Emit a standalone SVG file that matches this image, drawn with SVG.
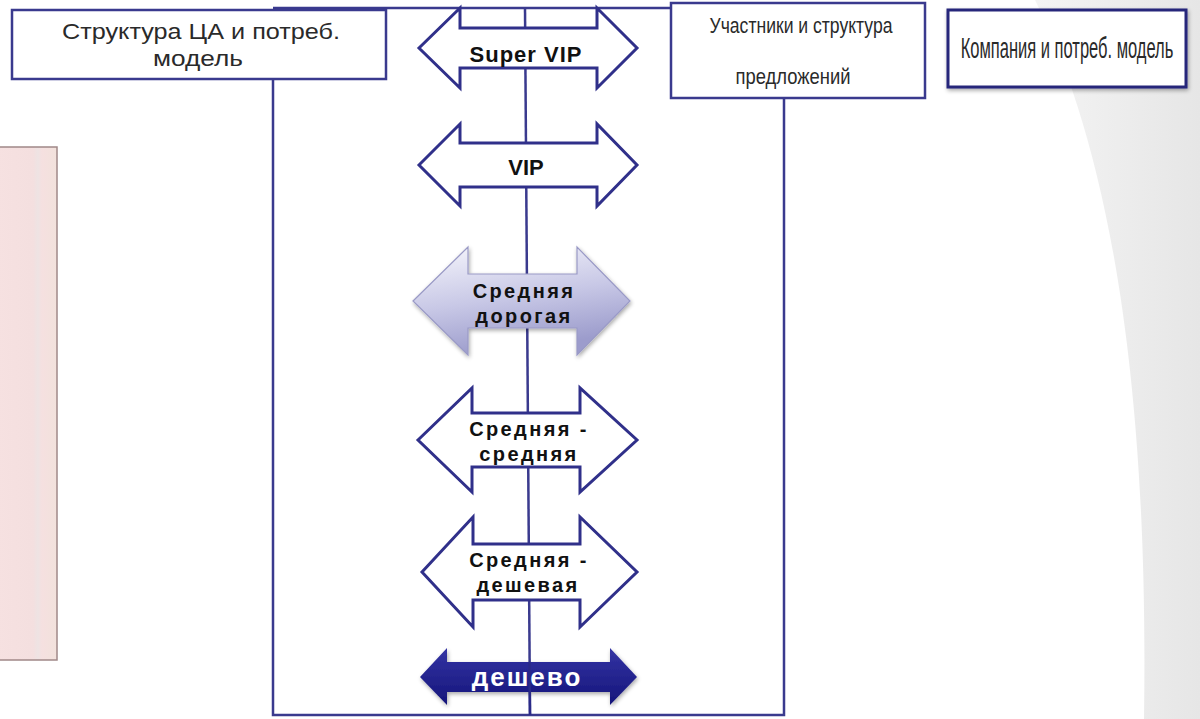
<svg xmlns="http://www.w3.org/2000/svg" width="1200" height="719" viewBox="0 0 1200 719">
  <defs>
    <linearGradient id="bgCurve" x1="0" y1="0" x2="1" y2="0">
      <stop offset="0" stop-color="#f4f4f4"/>
      <stop offset="1" stop-color="#e6e6e6"/>
    </linearGradient>
    <linearGradient id="midFill" x1="0" y1="0" x2="0.3" y2="1">
      <stop offset="0" stop-color="#f6f6fc"/>
      <stop offset="0.55" stop-color="#c8c8e6"/>
      <stop offset="1" stop-color="#9c9ccc"/>
    </linearGradient>
    <linearGradient id="cheapFill" x1="0" y1="0" x2="0" y2="1">
      <stop offset="0" stop-color="#3434a4"/>
      <stop offset="1" stop-color="#15157a"/>
    </linearGradient>
    <linearGradient id="pinkFill" x1="0" y1="0" x2="1" y2="0">
      <stop offset="0" stop-color="#f6e1e1"/>
      <stop offset="0.6" stop-color="#f4dfdf"/>
      <stop offset="0.68" stop-color="#eee3e3"/>
      <stop offset="0.75" stop-color="#f5e0e0"/>
      <stop offset="1" stop-color="#f2e2dc"/>
    </linearGradient>
    <filter id="soft" x="-10%" y="-10%" width="120%" height="130%">
      <feGaussianBlur in="SourceAlpha" stdDeviation="2"/>
      <feOffset dx="1" dy="2"/>
      <feComponentTransfer><feFuncA type="linear" slope="0.35"/></feComponentTransfer>
      <feMerge><feMergeNode/><feMergeNode in="SourceGraphic"/></feMerge>
    </filter>
  </defs>
  <style>
    .frame { fill: none; stroke: #3a3a8e; stroke-width: 2.5; }
    .box { fill: #ffffff; stroke: #3a3a8e; stroke-width: 2.5; }
    .arrow { fill: #ffffff; stroke: #30308a; stroke-width: 3; stroke-linejoin: miter; }
    .lbl { font-family: "Liberation Sans", Arial, sans-serif; font-weight: bold; fill: #111111; text-anchor: middle; }
    .hdr { font-family: "Liberation Sans", Arial, sans-serif; fill: #2a2a2a; text-anchor: middle; }
  </style>

  <!-- page background -->
  <rect x="0" y="0" width="1200" height="719" fill="#ffffff"/>
  <path d="M1035,0 C1095,120 1150,330 1144,719 L1200,719 L1200,0 Z" fill="url(#bgCurve)"/>

  <!-- side panel -->
  <rect x="-3" y="147" width="60" height="513" fill="url(#pinkFill)" stroke="#a08888" stroke-width="1.5"/>

  <!-- price-scale frame and axis -->
  <g id="connectors">
    <polyline class="frame" points="273,80 273,715 784,715 784,97"/>
    <line class="frame" x1="273" y1="8" x2="671" y2="8"/>
    <line class="frame" x1="525" y1="8" x2="530" y2="715"/>
  </g>

  <!-- header boxes -->
  <g id="box-audience">
    <rect class="box" x="12" y="10" width="374" height="69"/>
    <text class="hdr" x="201" y="39" font-size="22" textLength="278" lengthAdjust="spacingAndGlyphs">Структура ЦА и потреб.</text>
    <text class="hdr" x="198" y="66" font-size="22" textLength="90" lengthAdjust="spacingAndGlyphs">модель</text>
  </g>
  <g id="box-offers">
    <rect class="box" x="671" y="3" width="254" height="95"/>
    <text class="hdr" x="801" y="33" font-size="22" textLength="183" lengthAdjust="spacingAndGlyphs">Участники и структура</text>
    <text class="hdr" x="793" y="84" font-size="22" textLength="115" lengthAdjust="spacingAndGlyphs">предложений</text>
  </g>
  <g id="box-company">
    <rect x="948" y="10" width="238" height="77" fill="#ffffff" stroke="#27277a" stroke-width="3" filter="url(#soft)"/>
    <text class="hdr" transform="translate(1067,58) scale(0.55,1)" x="0" y="0" font-size="30" fill="#111111">Компания и потреб. модель</text>
  </g>

  <!-- price segments -->
  <g id="seg-supervip">
    <path class="arrow" d="M419,48 L460,8 L460,28 L597,28 L597,8 L637,48 L597,88 L597,68 L460,68 L460,88 Z"/>
    <text class="lbl" x="526" y="62" font-size="22" letter-spacing="1">Super VIP</text>
  </g>
  <g id="seg-vip">
    <path class="arrow" d="M419,165 L460,124 L460,143 L597,143 L597,124 L637,165 L597,206 L597,187 L460,187 L460,206 Z"/>
    <text class="lbl" x="526" y="175" font-size="22">VIP</text>
  </g>
  <g id="seg-mid-high">
    <path d="M413,301 L468,247 L468,274 L577,274 L577,247 L630,301 L577,355 L577,328 L468,328 L468,355 Z" fill="url(#midFill)" stroke="#9a9ac6" stroke-width="1.2" filter="url(#soft)"/>
    <text class="lbl" x="524" y="298" font-size="20" letter-spacing="2.4">Средняя</text>
    <text class="lbl" x="524" y="323" font-size="20" letter-spacing="2.4">дорогая</text>
  </g>
  <g id="seg-mid-mid">
    <path class="arrow" d="M418,440 L472,388 L472,413 L580,413 L580,388 L637,440 L580,492 L580,467 L472,467 L472,492 Z"/>
    <text class="lbl" x="529" y="436" font-size="20" letter-spacing="2.4">Средняя -</text>
    <text class="lbl" x="529" y="461" font-size="20" letter-spacing="2.4">средняя</text>
  </g>
  <g id="seg-mid-low">
    <path class="arrow" d="M422,572 L473,517 L473,544 L580,544 L580,517 L637,572 L580,627 L580,600 L473,600 L473,627 Z"/>
    <text class="lbl" x="529" y="567" font-size="20" letter-spacing="2.4">Средняя -</text>
    <text class="lbl" x="528" y="592" font-size="20" letter-spacing="2.4">дешевая</text>
  </g>
  <g id="seg-cheap">
    <path d="M420,677 L447,648 L447,662 L610,662 L610,648 L637,677 L610,705 L610,692 L447,692 L447,705 Z" fill="url(#cheapFill)" filter="url(#soft)"/>
    <line x1="529.5" y1="662" x2="530" y2="715" stroke="#2a2a88" stroke-width="2.5"/>
    <text x="527" y="686" font-family="Liberation Sans, Arial, sans-serif" font-weight="bold" font-size="26" letter-spacing="2" fill="#ffffff" text-anchor="middle">дешево</text>
  </g>
</svg>
